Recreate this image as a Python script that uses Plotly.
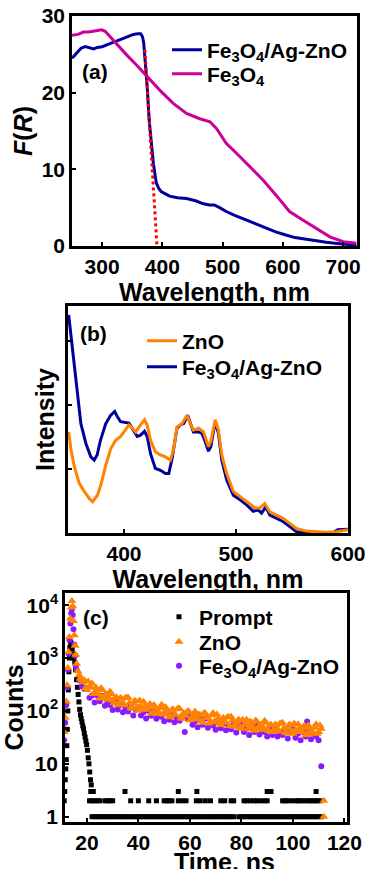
import plotly.graph_objects as go

W, H = 368, 869

# ---------------- Panel (a): F(R) ----------------
a_blue_x = [250, 258, 265, 272, 280, 286, 292, 300, 313, 327, 341, 352, 359, 364, 367, 369, 371, 373, 375, 378,
            381, 385, 388, 390, 394, 398, 405, 412, 425, 440, 455, 468, 478, 486, 495, 506, 520, 539, 555, 572,
            588, 605, 620, 639, 655, 672, 690, 705, 722]
a_blue_y = [24.5, 25.2, 25.8, 26.0, 25.8, 25.7, 25.9, 26.0, 26.4, 26.8, 27.3, 27.6, 27.7, 27.7, 27.3, 26.5, 24.5, 22.7,
            20.5, 16.5, 13.8, 10.8, 9.2, 8.2, 7.5, 7.1, 6.8, 6.5, 6.3, 6.2, 5.9, 5.5, 5.35, 5.35, 5.0, 4.5, 4.0, 3.4,
            2.85, 2.3, 1.85, 1.43, 1.1, 0.87, 0.65, 0.48, 0.33, 0.22, 0.1]
a_mag_x = [250, 260, 269, 277, 285, 292, 299, 305, 313, 327, 341, 357, 374, 396, 418, 440, 462, 479, 490, 506,
           523, 545, 567, 589, 611, 633, 656, 678, 700, 722]
a_mag_y = [27.5, 27.6, 27.9, 27.9, 28.0, 28.1, 28.2, 28.0, 27.3, 26.0, 24.9, 23.6, 22.1, 20.3, 18.6, 17.3, 16.6, 16.2,
           15.3, 13.4, 12.1, 10.3, 8.6, 6.6, 4.5, 3.4, 2.3, 1.2, 0.56, 0.35]
a_fit_x = [371, 391]
a_fit_y = [25.6, 0.0]
a_xticks = [300, 400, 500, 600, 700]
a_yticks = [0, 10, 20, 30]

# ---------------- Panel (b): PL ----------------
b_blue_x = [350.6, 354, 358, 361.5, 366, 370.4, 373.4, 376, 379, 383.7, 388, 391.7, 394, 397, 404.4, 407.4, 411.8,
            414.8, 418.3, 420.7, 423.7, 428, 432.5, 437, 440, 443, 447.3, 450.3, 453.3, 456.8, 459.2, 462, 466.6,
            469.5, 472.5, 475.4, 477.5, 481.4, 484.3, 487.3, 491.7, 497.6, 503.6, 509.5, 515.4, 519.8, 522.8, 526.6,
            530.2, 536, 542, 548, 554, 562.7, 571.6, 580.5, 586.4, 590.8, 598.2, 600]
b_blue_y = [3.41, 2.86, 2.18, 1.71, 1.40, 1.19, 1.14, 1.22, 1.45, 1.71, 1.84, 1.90, 1.82, 1.74, 1.72, 1.64, 1.51,
            1.53, 1.59, 1.51, 1.24, 1.01, 0.98, 0.93, 0.93, 1.17, 1.64, 1.69, 1.71, 1.84, 1.71, 1.58, 1.58,
            1.56, 1.43, 1.28, 1.35, 1.74, 1.56, 1.14, 0.83, 0.59, 0.52, 0.44, 0.34, 0.36, 0.31, 0.41,
            0.28, 0.23, 0.18, 0.10, 0.02, 0.0, -0.03, -0.03, 0.0, 0.05, 0.06, 0.06]
b_orange_x = [350.6, 352.7, 355.6, 360, 364.5, 369, 372, 376.3, 379.3, 383.7, 388.2, 392.6, 397, 401.5, 404.4,
              407.4, 410.4, 414.8, 418.3, 420.7, 423.7, 428, 432.5, 437, 441.4, 444.4, 447.3, 451.8, 456.2,
              459.2, 462, 466.6, 471, 475.4, 477.5, 481.4, 484.3, 487.3, 491.7, 497.6, 503.6, 511, 517, 521.3,
              525.7, 530.2, 536, 542, 548, 554, 562.7, 571.6, 580.5, 589.3, 598.2, 600]
b_orange_y = [1.58, 1.30, 1.04, 0.78, 0.65, 0.54, 0.49, 0.59, 0.75, 1.06, 1.32, 1.45, 1.51, 1.61, 1.69,
              1.64, 1.58, 1.69, 1.77, 1.69, 1.45, 1.27, 1.22, 1.19, 1.14, 1.32, 1.66, 1.71, 1.84,
              1.71, 1.61, 1.64, 1.58, 1.35, 1.43, 1.77, 1.61, 1.22, 0.93, 0.65, 0.57, 0.46, 0.39, 0.39,
              0.46, 0.33, 0.28, 0.23, 0.15, 0.07, 0.03, 0.02, 0.01, 0.02, 0.05, 0.05]
b_xticks = [400, 500, 600]

# ---------------- Panel (c): TRPL decay ----------------
c_prompt_t = [11.2, 11.4, 11.6, 11.8, 12.0, 12.2, 12.4, 12.6, 12.8, 13.0, 13.2, 13.4, 13.7, 14.0, 14.3, 14.6,
              14.9, 15.3, 15.6, 16.0, 16.3, 16.6, 16.9, 17.2, 17.5, 17.8, 18.1, 18.4, 18.7, 19.0, 19.3, 19.6,
              19.9, 20.2, 20.5, 20.8, 21.1, 21.4, 21.7, 22.0]
c_prompt_n = [2, 3, 5, 8, 12, 22, 45, 100, 250, 550, 1000, 1600, 2000, 1800, 1500, 1200,
              1000, 830, 600, 390, 280, 205, 148, 107, 85, 72, 62, 52, 46, 38, 32, 27,
              23, 18, 13, 10, 7, 5, 4, 3]
c_bg1_t = [22, 23, 24, 25, 26, 27, 28, 29, 30, 31, 32, 33, 34, 35, 36, 37, 38, 39, 40, 41, 42, 43, 44, 45, 46,
           47, 48, 49, 50, 51, 52, 53, 54, 55, 56, 57, 58, 59, 60, 61, 62, 63, 64, 65, 66, 67, 68, 69, 70, 71,
           72, 73, 74, 75, 76, 77, 79, 80, 81, 82, 83, 84, 85, 86, 87, 88, 89, 90, 91, 92, 93, 94, 95, 96, 97,
           98, 99, 100, 101, 102, 103, 104, 105, 106, 107, 108, 109, 110, 111]
c_bg2_t = [21, 22, 23, 24, 25, 27, 28, 29, 30, 37, 40, 44, 47, 50, 51, 52, 53, 55.5, 57, 58.5, 62.5, 64, 66, 68,
           72, 73.5, 76, 77, 81, 82, 83.5, 85, 86, 87.5, 89, 90, 96, 97, 98, 99.5, 101, 102, 103, 104, 105.5,
           106.5, 107.5, 108.5, 109.5, 110.5]
c_bg3_t = [21.5, 22.5, 34.8, 55.5, 62.7, 90, 91.5, 109]

c_zno_t = [11.2, 11.6, 12.0, 12.3, 12.6, 12.9, 13.2, 13.6, 13.9, 14.2, 14.5, 14.8, 15.1, 15.4, 15.7,
           16, 17, 18, 19, 20, 21, 22, 23, 24, 25, 26, 27, 28, 29, 30, 31, 32, 33, 34, 35, 36, 37, 38, 39, 40,
           41, 42, 43, 44, 45, 46, 47, 48, 49, 50, 51, 52, 53, 54, 55, 56, 57, 58, 59, 60, 61, 62, 63, 64, 65,
           66, 67, 68, 69, 70, 71, 72, 73, 74, 75, 76, 77, 78, 79, 80, 81, 82, 83, 84, 85, 86, 87, 88, 89, 90,
           91, 92, 93, 94, 95, 96, 97, 98, 99, 100, 101, 102, 103, 104, 105, 106, 107, 108, 109, 110, 111,
           112, 112]
c_zno_n = [40, 74, 150, 310, 650, 1300, 2500, 5600, 9000, 12000, 9500, 5000, 2700, 1700, 1150,
           780, 480, 380, 380, 248, 276, 329, 220, 254, 172, 248, 200, 162, 233, 158, 176, 130, 176, 141, 178,
           180, 115, 139, 152, 102, 119, 149, 105, 125, 88, 130, 107, 88, 131, 90, 103, 77, 105, 86, 108,
           110, 71, 88, 98, 67, 78, 98, 70, 84, 60, 89, 74, 62, 91, 63, 72, 54, 74, 60, 77,
           78, 50, 61, 68, 46, 54, 68, 49, 59, 42, 63, 53, 44, 65, 46, 53, 40, 55, 46, 58,
           60, 39, 48, 54, 37, 44, 56, 40, 49, 35, 53, 44, 37, 56, 40, 46,
           2, 1]
# additional ZnO channels between the integer ones
c_zno_t2 = [16.5, 17.5, 18.5, 19.5, 20.5, 21.5, 22.5, 23.5, 24.5, 25.5, 26.5, 27.5, 28.5, 29.5, 30.5, 31.5,
            32.5, 33.5, 34.5, 35.5, 36.5, 37.5, 38.5, 39.5, 40.5, 41.5, 42.5, 43.5, 44.5, 45.5, 46.5, 47.5,
            48.5, 49.5, 50.5, 51.5, 52.5, 53.5, 54.5, 55.5, 56.5, 57.5, 58.5, 59.5, 60.5, 61.5, 62.5, 63.5,
            64.5, 65.5, 66.5, 67.5, 68.5, 69.5, 70.5, 71.5, 72.5, 73.5, 74.5, 75.5, 76.5, 77.5, 78.5, 79.5,
            80.5, 81.5, 82.5, 83.5, 84.5, 85.5, 86.5, 87.5, 88.5, 89.5, 90.5, 91.5, 92.5, 93.5, 94.5, 95.5,
            96.5, 97.5, 98.5, 99.5, 100.5, 101.5, 102.5, 103.5, 104.5, 105.5, 106.5, 107.5, 108.5, 109.5, 110.5]
c_zno_n2 = [560, 410, 350, 272, 360, 280, 208, 278, 210, 269, 176, 205, 177, 210, 142, 182,
            144, 170, 128, 175, 142, 110, 154, 120, 158, 106, 126, 111, 135, 92, 119, 95,
            113, 86, 119, 97, 76, 107, 84, 111, 75, 90, 81, 99, 69, 89, 71, 86,
            65, 91, 74, 58, 83, 64, 86, 58, 69, 62, 76, 52, 67, 54, 65, 49,
            68, 56, 45, 63, 50, 66, 46, 55, 48, 60, 42, 55, 44, 54, 41, 58,
            47, 38, 54, 42, 58, 40, 47, 43, 53, 37, 48, 40, 48, 37, 53]

c_fe_t = [11.2, 11.6, 12.0, 12.3, 12.6, 12.9, 13.2, 13.6, 13.9, 14.2, 14.5, 14.8, 15.1, 15.4, 15.7,
          16, 17, 18, 19, 20, 21, 22, 23, 24, 25, 26, 27, 28, 29, 30, 31, 32, 33, 34, 35, 36, 37, 38, 39, 40,
          41, 42, 43, 44, 45, 46, 47, 48, 49, 50, 51, 52, 53, 54, 55, 56, 57, 58, 59, 60, 61, 62, 63, 64, 65,
          66, 67, 68, 69, 70, 71, 72, 73, 74, 75, 76, 77, 78, 79, 80, 81, 82, 83, 84, 85, 86, 87, 88, 89, 90,
          91, 92, 93, 94, 95, 96, 97, 98, 99, 100, 101, 102, 103, 104, 105, 105.5, 106, 107, 108, 109, 110,
          111]
c_fe_n = [28, 60, 130, 280, 600, 1200, 2200, 4500, 7000, 8500, 6500, 3500, 1800, 1100, 700,
          600, 380, 290, 262, 270, 178, 195, 144, 196, 152, 193, 125, 152, 130, 104, 149, 107, 130, 94, 112,
          98, 122, 82, 105, 118, 82, 94, 72, 101, 81, 105, 71, 88, 78, 64, 92, 68, 84, 61, 73,
          65, 81, 40, 71, 79, 55, 64, 49, 68, 55, 72, 48, 60, 53, 44, 64, 47, 58, 43, 51,
          45, 56, 39, 50, 56, 40, 46, 35, 50, 40, 54, 36, 45, 40, 33, 48, 35, 44, 33, 39,
          35, 44, 30, 40, 44, 31, 37, 28, 40, 33, 63, 44, 29, 37, 33, 28,
          9]
c_xticks = [20, 40, 60, 80, 100, 120]
c_yticks = [1, 10, 100, 1000, 10000]
c_yticktext = ["1", "10", "10<sup>2</sup>", "10<sup>3</sup>", "10<sup>4</sup>"]

FE_AG = "Fe<sub>3</sub>O<sub>4</sub>/Ag-ZnO"
FE = "Fe<sub>3</sub>O<sub>4</sub>"

BLUE = "#00009C"
MAGENTA = "#CC0099"
ORANGE = "#FF8200"
PURPLE = "#8C1AFF"


def px_x(p):
    return p / W


def px_y(p):
    return 1 - p / H


fig = go.Figure()

# panel a
fig.add_trace(go.Scatter(x=a_blue_x, y=a_blue_y, mode="lines", name=FE_AG, line=dict(color=BLUE, width=3),
                         xaxis="x", yaxis="y", legend="legend"))
fig.add_trace(go.Scatter(x=a_mag_x, y=a_mag_y, mode="lines", name=FE, line=dict(color=MAGENTA, width=3),
                         xaxis="x", yaxis="y", legend="legend2"))
fig.add_trace(go.Scatter(x=a_fit_x, y=a_fit_y, mode="lines", showlegend=False,
                         line=dict(color="#FF0000", width=3, dash="dot"), xaxis="x", yaxis="y"))

# panel b
fig.add_trace(go.Scatter(x=b_blue_x, y=b_blue_y, mode="lines", name=FE_AG, line=dict(color=BLUE, width=3),
                         xaxis="x2", yaxis="y2", legend="legend4"))
fig.add_trace(go.Scatter(x=b_orange_x, y=b_orange_y, mode="lines", name="ZnO", line=dict(color=ORANGE, width=3),
                         xaxis="x2", yaxis="y2", legend="legend3"))

# panel c
fig.add_trace(go.Scatter(x=c_prompt_t, y=c_prompt_n, mode="markers", name="Prompt",
                         marker=dict(symbol="square", size=5, color="black"),
                         xaxis="x3", yaxis="y3", legend="legend5"))
for tt, val in ((c_bg1_t, 1), (c_bg2_t, 2), (c_bg3_t, 3)):
    fig.add_trace(go.Scatter(x=tt, y=[val] * len(tt), mode="markers", showlegend=False,
                             marker=dict(symbol="square", size=5, color="black"),
                             xaxis="x3", yaxis="y3"))
fig.add_trace(go.Scatter(x=c_fe_t, y=c_fe_n, mode="markers", name=FE_AG,
                         marker=dict(symbol="circle", size=6, color=PURPLE),
                         xaxis="x3", yaxis="y3", legend="legend7"))
fig.add_trace(go.Scatter(x=c_zno_t + c_zno_t2, y=c_zno_n + c_zno_n2, mode="markers", name="ZnO",
                         marker=dict(symbol="triangle-up", size=8, color=ORANGE),
                         xaxis="x3", yaxis="y3", legend="legend6"))

axis_common = dict(showline=True, linecolor="black", linewidth=2.5, mirror=True, ticks="inside",
                   ticklen=4, tickwidth=2, tickcolor="black", showgrid=False, zeroline=False,
                   automargin=False)


def leg(text_x, center_y):
    return dict(x=px_x(text_x - 41), y=px_y(center_y), xanchor="left", yanchor="middle",
                bgcolor="rgba(0,0,0,0)", itemwidth=30, tracegroupgap=0)


fig.update_layout(
    width=W, height=H,
    margin=dict(l=0, r=0, t=0, b=0),
    paper_bgcolor="white", plot_bgcolor="white",
    font=dict(family="Liberation Sans, Arial, sans-serif", size=21, color="black", weight="bold"),
    xaxis=dict(domain=[px_x(72), px_x(357)], range=[250, 723], tickvals=a_xticks, anchor="y",
               title=dict(text="Wavelength, nm", standoff=2), **axis_common),
    yaxis=dict(domain=[px_y(246), px_y(16)], range=[0, 30], tickvals=a_yticks, anchor="x",
               title=dict(text="<i>F</i>(<i>R</i>)", standoff=2), **axis_common),
    xaxis2=dict(domain=[px_x(68), px_x(348)], range=[350, 600], tickvals=b_xticks, anchor="y2",
                title=dict(text="Wavelength, nm", standoff=2), **axis_common),
    yaxis2=dict(domain=[px_y(533), px_y(306)], range=[0, 3.55], tickvals=[1, 2, 3], showticklabels=False,
                anchor="x2", title=dict(text="Intensity", standoff=4), **axis_common),
    xaxis3=dict(domain=[px_x(65), px_x(347)], range=[11.5, 121], tickvals=c_xticks, anchor="y3",
                **axis_common),
    yaxis3=dict(domain=[px_y(822), px_y(593)], type="log", range=[-0.1, 4.23], tickvals=c_yticks,
                ticktext=c_yticktext, anchor="x3", title=dict(text="Counts", standoff=6), **axis_common),
    legend=leg(208, 50),
    legend2=leg(208, 74),
    legend3=leg(183, 341),
    legend4=leg(183, 367),
    legend5=leg(200, 617),
    legend6=leg(200, 642),
    legend7=leg(200, 666),
    annotations=[
        dict(text="(a)", x=px_x(95), y=px_y(72), xref="paper", yref="paper", showarrow=False,
             xanchor="center", yanchor="middle"),
        dict(text="(b)", x=px_x(93), y=px_y(333), xref="paper", yref="paper", showarrow=False,
             xanchor="center", yanchor="middle"),
        dict(text="(c)", x=px_x(96), y=px_y(617), xref="paper", yref="paper", showarrow=False,
             xanchor="center", yanchor="middle"),
        # x-axis title of panel (c), placed like the reference (partly below the page edge)
        dict(text="Time, ns", x=px_x(224), y=px_y(846), xref="paper", yref="paper", showarrow=False,
             xanchor="center", yanchor="top", font=dict(size=25)),
    ],
    showlegend=True,
)

# the page body has a default 8px margin; remove it so the figure sits at the window origin
fig.write_html("out.html", config={"displayModeBar": False},
               post_script="document.body.style.margin='0px';")
